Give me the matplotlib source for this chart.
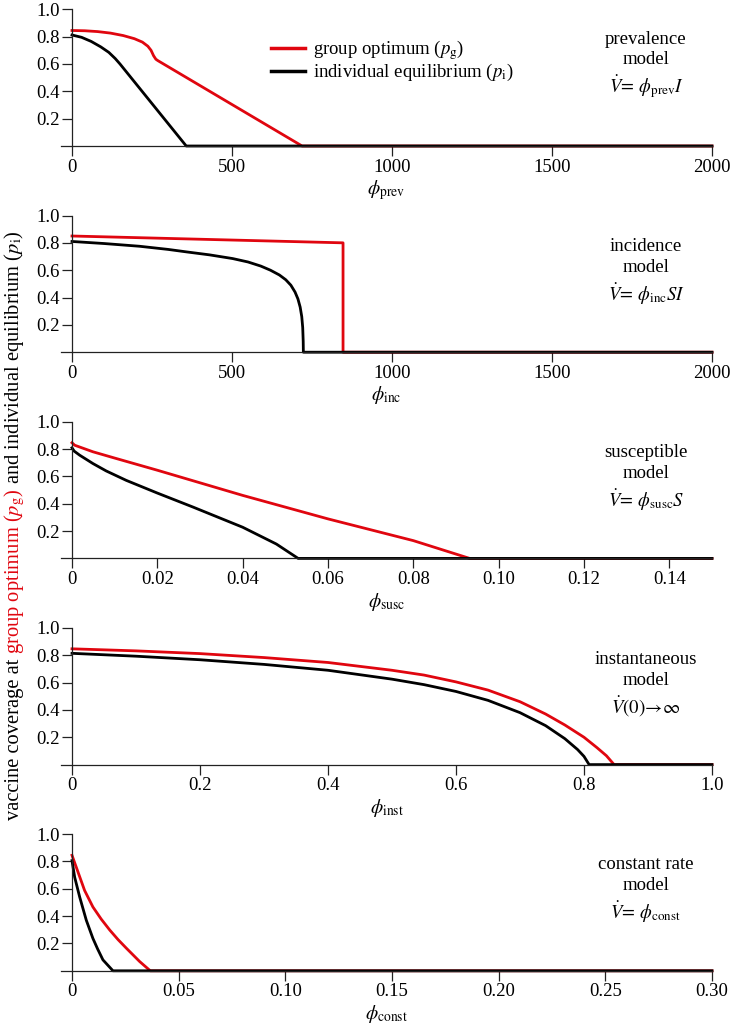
import numpy as np
import matplotlib
matplotlib.use("Agg")
import matplotlib.pyplot as plt

plt.rcParams["font.family"] = ["Liberation Serif", "DejaVu Serif"]
plt.rcParams["mathtext.fontset"] = "stix"
plt.rcParams["font.size"] = 13.5

RED = "#e0060f"
BLACK = "#000000"

# --- data ---
# prevalence model
prev_g_x = [0, 40, 80, 120, 160, 195, 220, 237, 247, 255, 262, 268, 719, 2000]
prev_g_y = [0.845, 0.843, 0.837, 0.826, 0.808, 0.785, 0.76, 0.73, 0.70, 0.66, 0.635, 0.625, 0.0, 0.0]
prev_i_x = [0, 30, 60, 90, 115, 135, 150, 357, 2000]
prev_i_y = [0.812, 0.795, 0.765, 0.725, 0.685, 0.64, 0.60, 0.0, 0.0]

# incidence model
inc_g_x = [0, 847, 847, 2000]
inc_g_y = [0.85, 0.80, 0.0, 0.0]
inc_i_x = [0, 100, 211, 300, 357, 430, 502, 550, 590, 620, 648, 668, 684, 697,
           706, 713, 718, 721, 722.5, 723, 2000]
inc_i_y = [0.81, 0.795, 0.775, 0.752, 0.734, 0.712, 0.685, 0.66, 0.63, 0.60, 0.565,
           0.53, 0.49, 0.44, 0.39, 0.33, 0.26, 0.18, 0.08, 0.0, 0.0]

# susceptible model
susc_g_x = [0, 0.000625, 0.0049, 0.01, 0.02, 0.04, 0.06, 0.08, 0.0932, 0.15]
susc_g_y = [0.846, 0.828, 0.78, 0.734, 0.645, 0.461, 0.289, 0.13, 0.0, 0.0]
susc_i_x = [0, 0.0005, 0.0018, 0.0049, 0.008, 0.0127, 0.02, 0.0284, 0.034, 0.04,
            0.0479, 0.053, 0.15]
susc_i_y = [0.809, 0.785, 0.755, 0.694, 0.64, 0.571, 0.478, 0.375, 0.304, 0.228,
            0.105, 0.0, 0.0]

# instantaneous model
inst_g_x = [0, 0.1, 0.2, 0.3, 0.4, 0.5, 0.55, 0.6, 0.65, 0.7, 0.74, 0.77, 0.8,
            0.82, 0.835, 0.847, 1.0]
inst_g_y = [0.847, 0.832, 0.812, 0.783, 0.747, 0.69, 0.655, 0.605, 0.545, 0.46,
            0.37, 0.29, 0.20, 0.125, 0.065, 0.0, 0.0]
inst_i_x = [0, 0.1, 0.2, 0.3, 0.4, 0.5, 0.55, 0.6, 0.65, 0.7, 0.74, 0.77, 0.79,
            0.8, 0.808, 1.0]
inst_i_y = [0.814, 0.793, 0.767, 0.733, 0.69, 0.625, 0.585, 0.535, 0.47, 0.38,
            0.285, 0.19, 0.11, 0.06, 0.0, 0.0]

# constant rate model
const_g_x = [0, 0.002, 0.0059, 0.0098, 0.0137, 0.0177, 0.0216, 0.0255, 0.0317, 0.0367, 0.30]
const_g_y = [0.845, 0.758, 0.588, 0.467, 0.378, 0.298, 0.228, 0.165, 0.068, 0.0, 0.0]
const_i_x = [0, 0.00125, 0.0036, 0.0067, 0.0098, 0.012, 0.0145, 0.0192, 0.30]
const_i_y = [0.806, 0.685, 0.54, 0.37, 0.237, 0.16, 0.08, 0.0, 0.0]

panels = [
    (prev_g_x, prev_g_y, prev_i_x, prev_i_y, 2000,
     [0, 500, 1000, 1500, 2000], ["0", "500", "1000", "1500", "2000"],
     r"$\phi_{\mathrm{prev}}$",
     "prevalence\nmodel\n" + r"$\dot{V}\!=\,\phi_{\mathrm{prev}}I$"),
    (inc_g_x, inc_g_y, inc_i_x, inc_i_y, 2000,
     [0, 500, 1000, 1500, 2000], ["0", "500", "1000", "1500", "2000"],
     r"$\phi_{\mathrm{inc}}$",
     "incidence\nmodel\n" + r"$\dot{V}\!=\,\phi_{\mathrm{inc}}SI$"),
    (susc_g_x, susc_g_y, susc_i_x, susc_i_y, 0.15,
     [0, 0.02, 0.04, 0.06, 0.08, 0.10, 0.12, 0.14],
     ["0", "0.02", "0.04", "0.06", "0.08", "0.10", "0.12", "0.14"],
     r"$\phi_{\mathrm{susc}}$",
     "susceptible\nmodel\n" + r"$\dot{V}\!=\,\phi_{\mathrm{susc}}S$"),
    (inst_g_x, inst_g_y, inst_i_x, inst_i_y, 1.0,
     [0, 0.2, 0.4, 0.6, 0.8, 1.0], ["0", "0.2", "0.4", "0.6", "0.8", "1.0"],
     r"$\phi_{\mathrm{inst}}$",
     "instantaneous\nmodel\n" + r"$\dot{V}(0)\!\rightarrow\!\infty$"),
    (const_g_x, const_g_y, const_i_x, const_i_y, 0.30,
     [0, 0.05, 0.10, 0.15, 0.20, 0.25, 0.30],
     ["0", "0.05", "0.10", "0.15", "0.20", "0.25", "0.30"],
     r"$\phi_{\mathrm{const}}$",
     "constant rate\nmodel\n" + r"$\dot{V}\!=\,\phi_{\mathrm{const}}$"),
]

W, H = 731, 1029
fig = plt.figure(figsize=(W / 100, H / 100), dpi=100)

left_px, right_px = 61, 712
spine_px = 72
axes = []
for i, (gx, gy, ix, iy, xmax, xt, xtl, xlab, note) in enumerate(panels):
    top = 9.3 + 206.2 * i
    bot = 146 + 206.2 * i
    ax = fig.add_axes([left_px / W, 1 - bot / H, (right_px - left_px) / W, (bot - top) / H])
    x0 = -xmax * (spine_px - left_px) / (right_px - spine_px)
    ax.set_xlim(x0, xmax)
    ax.set_ylim(0, 1.0)
    ax.plot(gx, gy, color=RED, lw=2.0, clip_on=False, solid_joinstyle="round")
    ax.plot(ix, iy, color=BLACK, lw=2.0, clip_on=False, solid_joinstyle="round")

    for s in ["top", "right"]:
        ax.spines[s].set_visible(False)
    ax.spines["left"].set_position(("data", 0))
    ax.spines["left"].set_bounds(0, 1.0)
    for s in ["left", "bottom"]:
        ax.spines[s].set_linewidth(0.9)
        ax.spines[s].set_color("#222222")

    ax.set_yticks([0.2, 0.4, 0.6, 0.8, 1.0])
    ax.set_yticklabels(["0.2", "0.4", "0.6", "0.8", "1.0"])
    ax.set_xticks(xt)
    ax.set_xticklabels(xtl)
    ax.tick_params(axis="both", direction="out", length=7, width=0.9,
                   color="#222222", labelsize=13.5, pad=2)
    ax.set_xlabel(xlab, fontsize=14, labelpad=2)
    ax.patch.set_visible(False)

    ax.text((646 - left_px) / (right_px - left_px), 0.585, note,
            transform=ax.transAxes, ha="center", va="center",
            fontsize=13.5, linespacing=1.3)
    axes.append(ax)

# legend in the first panel
axes[0].legend([plt.Line2D([], [], color=RED, lw=2.5),
                plt.Line2D([], [], color=BLACK, lw=2.5)],
               [r"group optimum ($p_{\mathrm{g}}$)",
                r"individual equilibrium ($p_{\mathrm{i}}$)"],
               loc="upper left", bbox_to_anchor=(262 / W, 1 - 29 / H),
               bbox_transform=fig.transFigure, frameon=False,
               handlelength=1.8, handletextpad=0.4, labelspacing=0.0,
               fontsize=13.5, borderpad=0)

# multi-coloured vertical y label
pieces = [("vaccine coverage at ", BLACK),
          (r"group optimum ($p_{\mathrm{g}}$)", RED),
          (r" and individual equilibrium ($p_{\mathrm{i}}$)", BLACK)]
renderer = fig.canvas.get_renderer()
xb = 19 / W
texts = []
y = 0.0
for s, c in pieces:
    t = fig.text(xb, y, s, color=c, rotation=90, rotation_mode="anchor",
                 ha="left", va="baseline", fontsize=14.8)
    bb = t.get_window_extent(renderer)
    texts.append(t)
    y = y + bb.height / H
total = y
ystart = (1 - 525 / H) - total / 2
y = ystart
for t in texts:
    t.set_y(y)
    bb = t.get_window_extent(renderer)
    y = y + bb.height / H

fig.savefig("out.png", dpi=100)
